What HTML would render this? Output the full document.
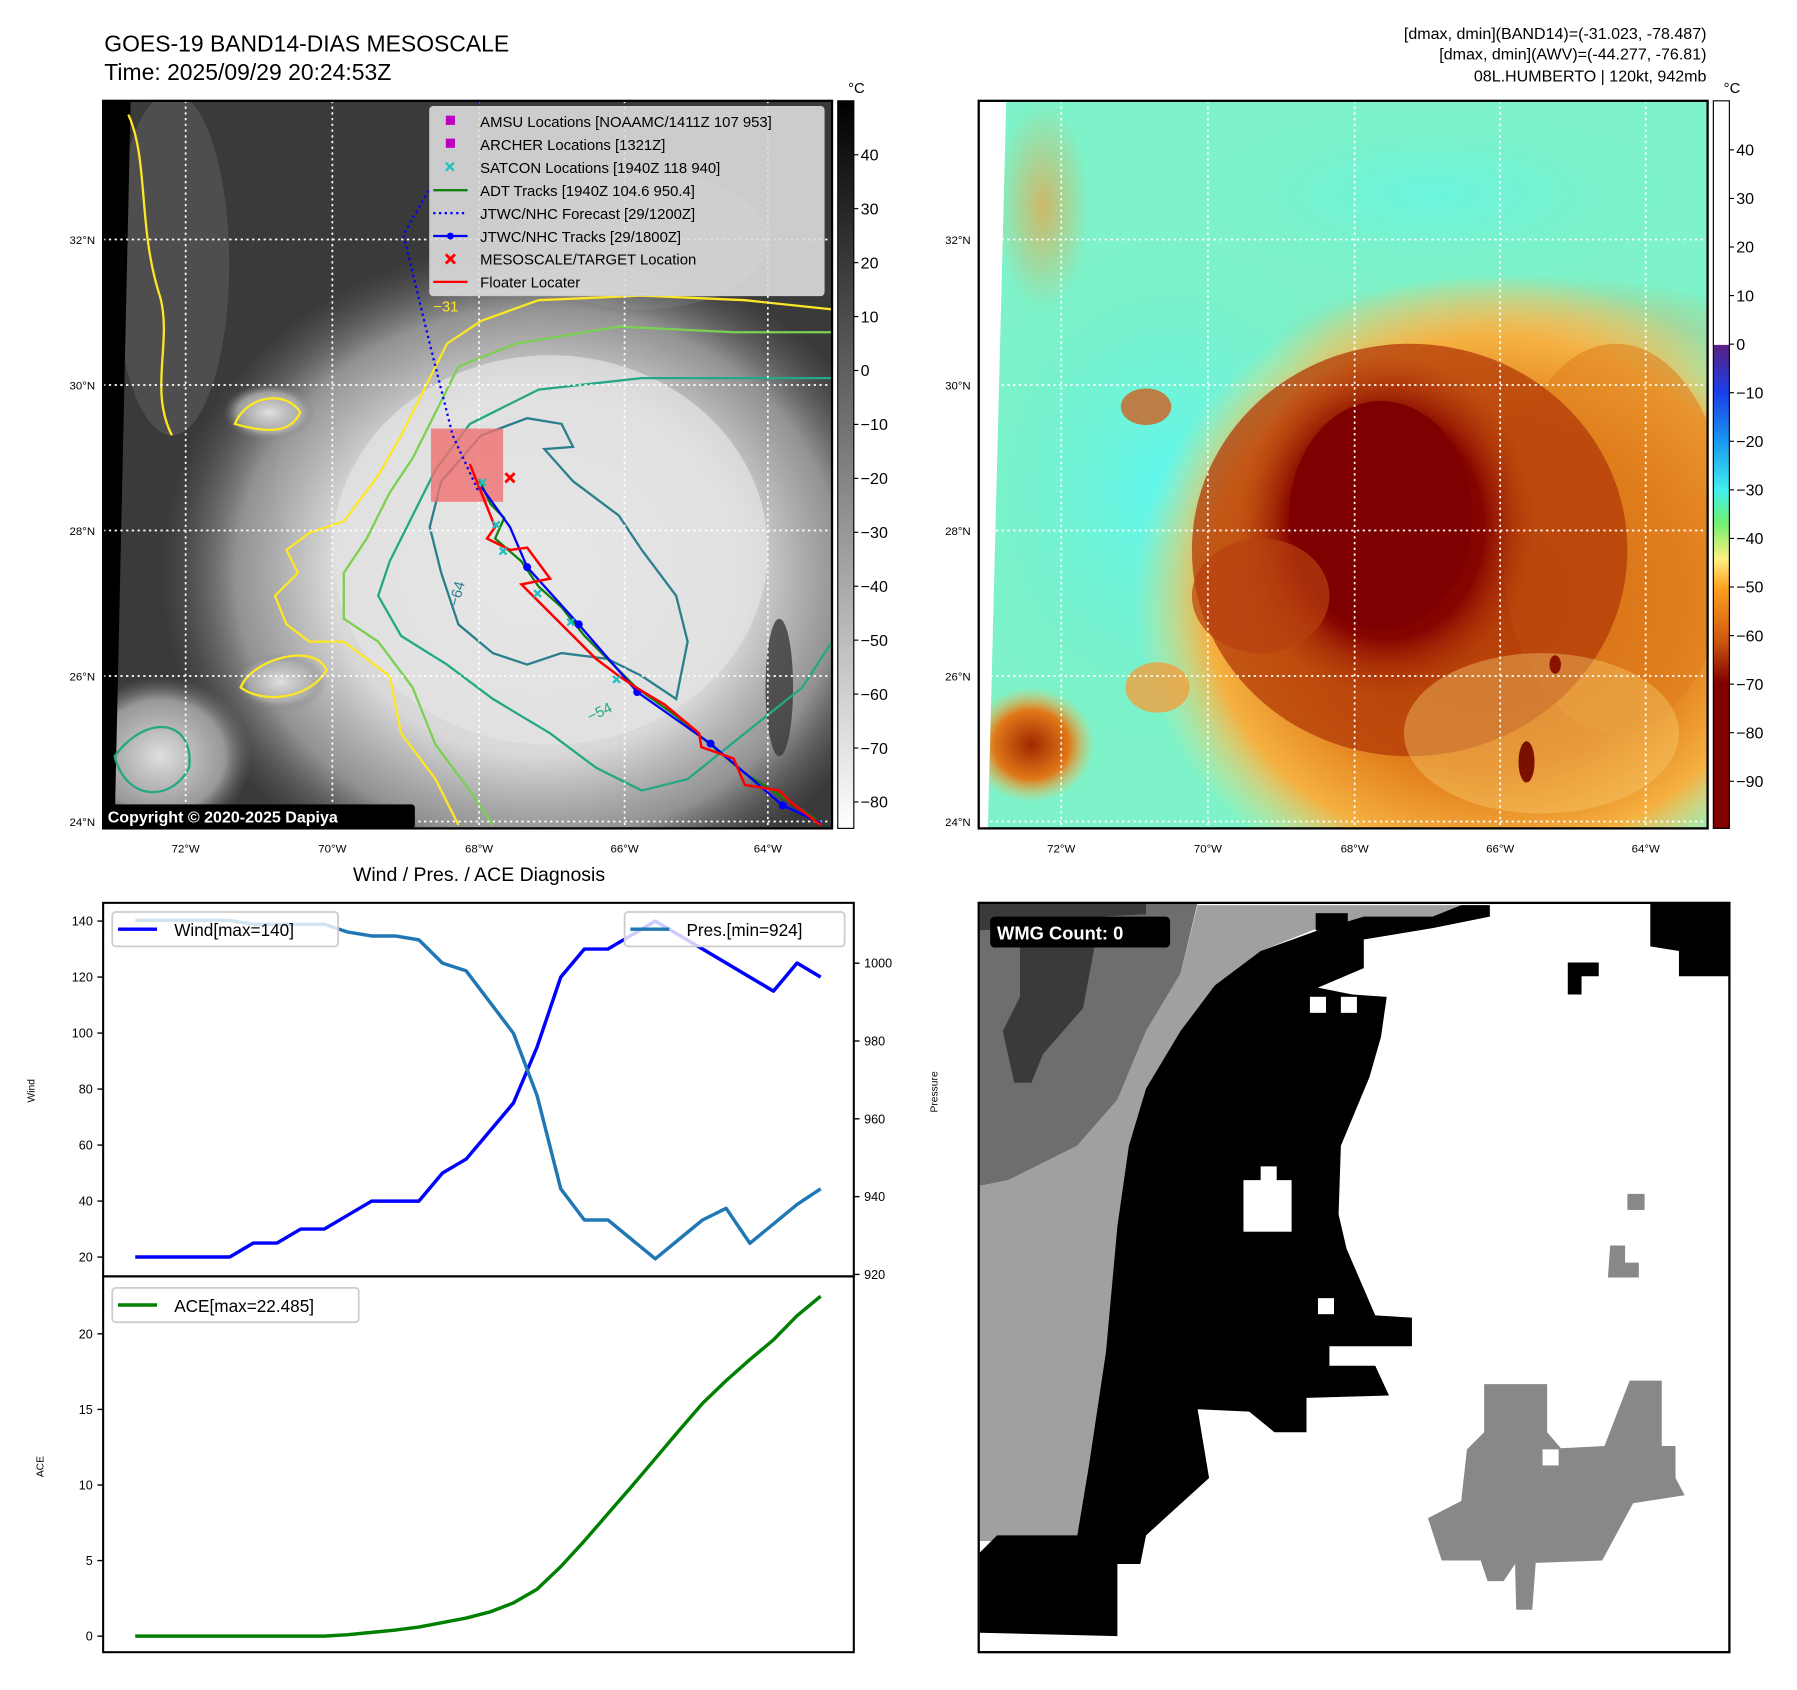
<!DOCTYPE html>
<html><head><meta charset="utf-8"><style>
html,body{margin:0;padding:0;background:#fff;}
svg{display:block;font-family:"Liberation Sans","DejaVu Sans",sans-serif;}
</style></head><body>
<svg id="root" width="1797" height="1690" viewBox="0 0 1568 1475" preserveAspectRatio="none" xmlns="http://www.w3.org/2000/svg">
<defs>
<linearGradient id="cbGray" x1="0" y1="0" x2="0" y2="1"><stop offset="0" stop-color="#000"/><stop offset="1" stop-color="#fff"/></linearGradient>
<linearGradient id="cbJet" x1="0" y1="0" x2="0" y2="1">
<stop offset="0" stop-color="#fff"/><stop offset="0.335" stop-color="#fff"/>
<stop offset="0.336" stop-color="#5a2080"/><stop offset="0.40" stop-color="#1a3ee8"/>
<stop offset="0.47" stop-color="#1a9af0"/><stop offset="0.535" stop-color="#40f0f0"/>
<stop offset="0.58" stop-color="#70f070"/><stop offset="0.63" stop-color="#fff080"/>
<stop offset="0.67" stop-color="#ffa020"/><stop offset="0.74" stop-color="#d05a10"/>
<stop offset="0.80" stop-color="#800000"/><stop offset="1" stop-color="#800000"/></linearGradient>
<radialGradient id="stormL" cx="0.5" cy="0.5" r="0.5"><stop offset="0" stop-color="#ececec"/><stop offset="0.55" stop-color="#d8d8d8"/><stop offset="0.8" stop-color="#a8a8a8" stop-opacity="0.8"/><stop offset="1" stop-color="#6a6a6a" stop-opacity="0"/></radialGradient>
<radialGradient id="blobL" cx="0.5" cy="0.5" r="0.5"><stop offset="0" stop-color="#e0e0e0"/><stop offset="0.7" stop-color="#b0b0b0" stop-opacity="0.8"/><stop offset="1" stop-color="#777" stop-opacity="0"/></radialGradient>
<radialGradient id="stormR" cx="0.5" cy="0.5" r="0.5"><stop offset="0" stop-color="#c04a08"/><stop offset="0.55" stop-color="#e07a18"/><stop offset="0.8" stop-color="#f5b040"/><stop offset="1" stop-color="#f8e080" stop-opacity="0"/></radialGradient>
<radialGradient id="coreR" cx="0.5" cy="0.5" r="0.5"><stop offset="0" stop-color="#7a0000"/><stop offset="0.65" stop-color="#860400"/><stop offset="1" stop-color="#b03808" stop-opacity="0"/></radialGradient>
<radialGradient id="cyanR" cx="0.5" cy="0.5" r="0.5"><stop offset="0" stop-color="#5ef8f0"/><stop offset="1" stop-color="#70f0d0" stop-opacity="0"/></radialGradient>
<radialGradient id="orBlob" cx="0.5" cy="0.5" r="0.5"><stop offset="0" stop-color="#a02800"/><stop offset="0.6" stop-color="#e07818"/><stop offset="1" stop-color="#f8c050" stop-opacity="0"/></radialGradient>
<radialGradient id="softOr" cx="0.5" cy="0.5" r="0.5"><stop offset="0" stop-color="#f0a040"/><stop offset="1" stop-color="#f0a040" stop-opacity="0"/></radialGradient>
<clipPath id="clipL"><rect x="90" y="88" width="636" height="635"/></clipPath>
<clipPath id="clipR"><rect x="854" y="88" width="636" height="635"/></clipPath>
</defs>

<text x="91" y="45" font-size="20">GOES-19 BAND14-DIAS MESOSCALE</text>
<text x="91" y="70" font-size="20">Time: 2025/09/29 20:24:53Z</text>
<text x="1489" y="34" font-size="14" text-anchor="end">[dmax, dmin](BAND14)=(-31.023, -78.487)</text>
<text x="1489" y="52" font-size="14" text-anchor="end">[dmax, dmin](AWV)=(-44.277, -76.81)</text>
<text x="1489" y="71" font-size="14" text-anchor="end">08L.HUMBERTO | 120kt, 942mb</text>

<g clip-path="url(#clipL)">
<rect x="90" y="88" width="636" height="635" fill="#3a3a3a"/>
<ellipse cx="150" cy="230" rx="50" ry="150" fill="#4e4e4e"/>
<ellipse cx="330" cy="420" rx="90" ry="90" fill="#474747"/>
<ellipse cx="560" cy="210" rx="110" ry="60" fill="#505050"/>
<ellipse cx="470" cy="500" rx="330" ry="290" fill="url(#stormL)"/>
<ellipse cx="480" cy="480" rx="190" ry="170" fill="#e4e4e4" opacity="0.7"/>
<ellipse cx="140" cy="660" rx="80" ry="70" fill="url(#blobL)"/>
<ellipse cx="235" cy="360" rx="40" ry="25" fill="url(#blobL)"/>
<ellipse cx="245" cy="595" rx="40" ry="25" fill="url(#blobL)"/>
<ellipse cx="680" cy="600" rx="12" ry="60" fill="#3a3a3a" opacity="0.8"/>
<path d="M90,88 L114,88 L100,723 L90,723 Z" fill="#000"/>
<g fill="none" stroke-width="2">
<path stroke="#fde725" d="M726,270 L650,262 L560,258 L470,262 L420,280 L390,300 L370,340 L350,380 L330,415 L300,455 L270,465 L250,480 L260,500 L240,520 L250,545 L270,560 L300,560 L340,590 L350,640 L380,680 L400,720"/>
<path stroke="#7ad151" d="M726,290 L640,290 L540,285 L450,300 L400,320 L380,360 L360,400 L340,430 L320,470 L300,500 L300,540 L330,560 L360,600 L380,650 L410,690 L430,720"/>
<path stroke="#22a884" d="M726,330 L650,330 L560,330 L470,340 L410,370 L380,410 L360,450 L340,490 L330,520 L350,555 L390,580 L430,610 L480,640 L520,670 L560,690 L600,680 L650,640 L700,600 L726,560"/>
<path stroke="#2a7f8e" d="M385,420 L420,380 L460,365 L490,370 L500,390 L475,392 L500,420 L540,450 L560,480 L590,520 L600,560 L590,610 L560,590 L530,575 L490,570 L460,580 L430,570 L400,545 L385,500 L375,460 Z"/>
<path stroke="#fde725" d="M205,370 C215,345 250,340 262,360 C255,375 240,380 205,370 Z"/>
<path stroke="#fde725" d="M210,600 C220,575 275,560 285,585 C270,610 230,615 210,600 Z"/>
<path stroke="#22a884" d="M100,660 C130,620 170,630 165,670 C150,700 110,700 100,660 Z"/>
<path stroke="#fde725" d="M112,100 C130,140 120,200 140,260 C150,300 130,340 150,380"/>
</g>
<g stroke="#fff" stroke-width="1.5" stroke-dasharray="2,3">
<line x1="162" y1="88" x2="162" y2="723"/><line x1="290" y1="88" x2="290" y2="723"/><line x1="418" y1="88" x2="418" y2="723"/><line x1="545" y1="88" x2="545" y2="723"/><line x1="670" y1="88" x2="670" y2="723"/>
<line x1="90" y1="209" x2="726" y2="209"/><line x1="90" y1="336" x2="726" y2="336"/><line x1="90" y1="463" x2="726" y2="463"/><line x1="90" y1="590" x2="726" y2="590"/><line x1="90" y1="717" x2="726" y2="717"/>
</g>
<rect x="376" y="374" width="63" height="64" fill="#f07070" opacity="0.8"/>
<polyline points="418,88 352,205 375,300 395,380 418,430" fill="none" stroke="#0000ff" stroke-width="2" stroke-dasharray="2,3"/>
<polyline points="418,418 428,440 440,452 432,470 455,490 470,512 490,530 510,555 535,580 555,600 590,625 620,650 650,675 690,700 716,718" fill="none" stroke="#108010" stroke-width="2"/>
<polyline points="420,425 445,460 460,495 505,545 556,604 620,649 683,703 716,718" fill="none" stroke="#0000ff" stroke-width="2"/>
<g fill="#0000ff"><circle cx="460" cy="495" r="3.5"/><circle cx="505" cy="545" r="3.5"/><circle cx="556" cy="604" r="3.5"/><circle cx="620" cy="649" r="3.5"/><circle cx="683" cy="703" r="3.5"/></g>
<polyline points="410,405 432,460 425,470 445,480 460,478 480,505 455,510 520,575 540,590 555,600 580,615 610,640 612,652 640,662 650,685 680,690 690,700 716,720" fill="none" stroke="#f00" stroke-width="2.2"/>
<g stroke="#20c0c0" stroke-width="2">
<path d="M418,418 l6,6 m0,-6 l-6,6 M430,455 l6,6 m0,-6 l-6,6 M436,478 l6,6 m0,-6 l-6,6 M466,515 l6,6 m0,-6 l-6,6 M495,540 l6,6 m0,-6 l-6,6 M535,590 l6,6 m0,-6 l-6,6"/>
</g>
<path d="M441,413 l8,8 m0,-8 l-8,8" stroke="#f00" stroke-width="2.5"/>
<text x="378" y="272" font-size="13" fill="#fde725">−31</text>
<text x="515" y="630" font-size="13" fill="#22a884" transform="rotate(-25 515 630)">−54</text>
<text x="400" y="530" font-size="13" fill="#2a7f8e" transform="rotate(-75 400 530)">−64</text>
</g>
<rect x="90" y="88" width="636" height="635" fill="none" stroke="#000" stroke-width="2"/>
<g>
<rect x="375" y="93" width="344" height="165" rx="3" fill="#ddd" fill-opacity="0.9" stroke="#ccc"/>
<rect x="389" y="101" width="8" height="8" fill="#c000c0"/>
<rect x="389" y="121" width="8" height="8" fill="#c000c0"/>
<path d="M389,142 l7,7 m0,-7 l-7,7" stroke="#20c0c0" stroke-width="2"/>
<line x1="378" y1="166" x2="408" y2="166" stroke="#108010" stroke-width="2"/>
<line x1="378" y1="186" x2="408" y2="186" stroke="#0000ff" stroke-width="2" stroke-dasharray="2,3"/>
<line x1="378" y1="206" x2="408" y2="206" stroke="#0000ff" stroke-width="2"/><circle cx="393" cy="206" r="3" fill="#0000ff"/>
<path d="M389,222 l8,8 m0,-8 l-8,8" stroke="#f00" stroke-width="2.5"/>
<line x1="378" y1="246" x2="408" y2="246" stroke="#f00" stroke-width="2"/>
<g font-size="13">
<text x="419" y="111">AMSU Locations [NOAAMC/1411Z 107 953]</text>
<text x="419" y="131">ARCHER Locations [1321Z]</text>
<text x="419" y="151">SATCON Locations [1940Z 118 940]</text>
<text x="419" y="171">ADT Tracks [1940Z 104.6 950.4]</text>
<text x="419" y="191">JTWC/NHC Forecast [29/1200Z]</text>
<text x="419" y="211">JTWC/NHC Tracks [29/1800Z]</text>
<text x="419" y="231">MESOSCALE/TARGET Location</text>
<text x="419" y="251">Floater Locater</text>
</g></g>
<g><rect x="90" y="702" width="272" height="21" rx="3" fill="#000"/><text x="94" y="718" font-size="14" font-weight="bold" fill="#fff">Copyright © 2020-2025 Dapiya</text></g>
<g font-size="10">
<text x="162" y="744" text-anchor="middle">72°W</text><text x="290" y="744" text-anchor="middle">70°W</text><text x="418" y="744" text-anchor="middle">68°W</text><text x="545" y="744" text-anchor="middle">66°W</text><text x="670" y="744" text-anchor="middle">64°W</text>
<text x="83" y="213" text-anchor="end">32°N</text><text x="83" y="340" text-anchor="end">30°N</text><text x="83" y="467" text-anchor="end">28°N</text><text x="83" y="594" text-anchor="end">26°N</text><text x="83" y="721" text-anchor="end">24°N</text>
</g>
<rect x="731" y="88" width="14" height="635" fill="url(#cbGray)" stroke="#000" stroke-width="1"/>
<text x="740" y="81" font-size="13">°C</text>
<g id="cbTicksL" font-size="14"></g>

<g clip-path="url(#clipR)">
<rect x="854" y="88" width="636" height="635" fill="#7ef2c8"/>
<ellipse cx="1020" cy="430" rx="190" ry="230" fill="url(#cyanR)"/>
<ellipse cx="1250" cy="170" rx="220" ry="80" fill="url(#cyanR)" opacity="0.6"/>
<ellipse cx="910" cy="180" rx="40" ry="90" fill="url(#softOr)" opacity="0.7"/>
<ellipse cx="1330" cy="300" rx="220" ry="60" fill="url(#softOr)" opacity="0.9"/>
<ellipse cx="1300" cy="520" rx="310" ry="280" fill="url(#stormR)"/>
<ellipse cx="1410" cy="470" rx="100" ry="170" fill="#e08020" opacity="0.6"/>
<ellipse cx="1230" cy="480" rx="190" ry="180" fill="#b23a08" opacity="0.75"/>
<ellipse cx="1210" cy="460" rx="130" ry="150" fill="url(#coreR)"/>
<ellipse cx="1205" cy="450" rx="80" ry="100" fill="#7e0000"/>
<ellipse cx="1100" cy="520" rx="60" ry="50" fill="#b84010" opacity="0.7"/>
<ellipse cx="1345" cy="640" rx="120" ry="70" fill="#f8d070" opacity="0.4"/>
<ellipse cx="900" cy="650" rx="55" ry="50" fill="url(#orBlob)"/>
<ellipse cx="1000" cy="355" rx="22" ry="16" fill="#d06020" opacity="0.8"/>
<ellipse cx="1010" cy="600" rx="28" ry="22" fill="#f0a040" opacity="0.8"/>
<ellipse cx="1332" cy="665" rx="7" ry="18" fill="#7a1000"/>
<ellipse cx="1357" cy="580" rx="5" ry="8" fill="#8a1000"/>
<path d="M854,88 L878,88 L862,723 L854,723 Z" fill="#fff"/>
<g stroke="#fff" stroke-width="1.5" stroke-dasharray="2,3">
<line x1="926" y1="88" x2="926" y2="723"/><line x1="1054" y1="88" x2="1054" y2="723"/><line x1="1182" y1="88" x2="1182" y2="723"/><line x1="1309" y1="88" x2="1309" y2="723"/><line x1="1436" y1="88" x2="1436" y2="723"/>
<line x1="854" y1="209" x2="1490" y2="209"/><line x1="854" y1="336" x2="1490" y2="336"/><line x1="854" y1="463" x2="1490" y2="463"/><line x1="854" y1="590" x2="1490" y2="590"/><line x1="854" y1="717" x2="1490" y2="717"/>
</g>
</g>
<rect x="854" y="88" width="636" height="635" fill="none" stroke="#000" stroke-width="2"/>
<g font-size="10">
<text x="926" y="744" text-anchor="middle">72°W</text><text x="1054" y="744" text-anchor="middle">70°W</text><text x="1182" y="744" text-anchor="middle">68°W</text><text x="1309" y="744" text-anchor="middle">66°W</text><text x="1436" y="744" text-anchor="middle">64°W</text>
<text x="847" y="213" text-anchor="end">32°N</text><text x="847" y="340" text-anchor="end">30°N</text><text x="847" y="467" text-anchor="end">28°N</text><text x="847" y="594" text-anchor="end">26°N</text><text x="847" y="721" text-anchor="end">24°N</text>
</g>
<rect x="1495" y="88" width="14" height="635" fill="url(#cbJet)" stroke="#000" stroke-width="1"/>
<text x="1504" y="81" font-size="13">°C</text>
<g id="cbTicksR" font-size="14"></g>

<text x="418" y="769" font-size="17" text-anchor="middle">Wind / Pres. / ACE Diagnosis</text>
<rect x="90" y="788" width="655" height="654" fill="#fff"/>
<g id="charts"></g>
<rect x="90" y="788" width="655" height="326" fill="none" stroke="#000" stroke-width="1.8"/>
<rect x="90" y="1114" width="655" height="328" fill="none" stroke="#000" stroke-width="1.8"/>
<text x="30" y="952" font-size="9" text-anchor="middle" transform="rotate(-90 30 952)">Wind</text>
<text x="38" y="1280" font-size="9" text-anchor="middle" transform="rotate(-90 38 1280)">ACE</text>
<text x="818" y="953" font-size="9" text-anchor="middle" transform="rotate(-90 818 953)">Pressure</text>
<g><rect x="98" y="796" width="197" height="30" rx="3" fill="#fff" fill-opacity="0.8" stroke="#ccc" stroke-width="1.5"/><line x1="103" y1="811" x2="137" y2="811" stroke="#0000ff" stroke-width="3"/><text x="152" y="817" font-size="15">Wind[max=140]</text></g>
<g><rect x="545" y="796" width="192" height="30" rx="3" fill="#fff" fill-opacity="0.8" stroke="#ccc" stroke-width="1.5"/><line x1="550" y1="811" x2="584" y2="811" stroke="#1f77b4" stroke-width="3"/><text x="599" y="817" font-size="15">Pres.[min=924]</text></g>
<g><rect x="98" y="1124" width="215" height="30" rx="3" fill="#fff" fill-opacity="0.8" stroke="#ccc" stroke-width="1.5"/><line x1="103" y1="1139" x2="137" y2="1139" stroke="#008000" stroke-width="3"/><text x="152" y="1145" font-size="15">ACE[max=22.485]</text></g>

<g>
<rect x="854" y="788" width="655" height="654" fill="#fff"/>
<polygon points="855,788 1045,788 1030,850 1000,900 975,960 940,1000 880,1030 855,1035" fill="#6e6e6e"/>
<polygon points="855,788 1000,788 1000,798 960,800 945,880 910,920 900,945 885,945 875,900 890,870 890,810 855,812" fill="#3a3a3a"/>
<polygon points="855,1035 880,1030 940,1000 975,960 1000,900 1030,850 1045,790 1275,790 1250,800 1150,810 1100,830 1060,860 1030,900 1000,950 985,1000 975,1070 965,1180 950,1280 940,1340 870,1345 855,1345" fill="#a0a0a0"/>
<polygon points="1060,860 1100,830 1150,812 1190,800 1250,800 1275,790 1300,790 1300,800 1250,810 1190,820 1190,845 1150,862 1180,868 1210,870 1205,905 1195,940 1170,1000 1168,1060 1175,1090 1200,1148 1232,1150 1232,1175 1160,1175 1160,1192 1200,1192 1212,1218 1140,1220 1140,1250 1112,1250 1090,1232 1045,1230 1055,1290 1000,1340 995,1365 975,1365 975,1428 855,1425 855,1355 870,1340 940,1340 950,1280 965,1180 975,1070 985,1000 1000,950 1030,900" fill="#000"/>
<polygon points="1440,788 1509,788 1509,852 1465,852 1465,830 1440,826" fill="#000"/>
<polygon points="1368,840 1395,840 1395,852 1380,852 1380,868 1368,868" fill="#000"/>
<rect x="1148" y="797" width="28" height="15" fill="#000"/>
<rect x="1085" y="1030" width="42" height="45" fill="#fff"/><rect x="1100" y="1018" width="14" height="14" fill="#fff"/>
<rect x="1143" y="870" width="14" height="14" fill="#fff"/><rect x="1170" y="870" width="14" height="14" fill="#fff"/>
<rect x="992" y="990" width="14" height="14" fill="#000"/>
<rect x="1150" y="1133" width="14" height="14" fill="#fff"/>
<polygon points="1295,1208 1350,1208 1350,1250 1362,1264 1400,1262 1422,1205 1450,1205 1450,1262 1462,1262 1462,1290 1470,1305 1425,1312 1398,1362 1340,1364 1337,1405 1323,1405 1322,1365 1312,1380 1298,1380 1292,1362 1258,1362 1246,1325 1275,1310 1280,1265 1295,1250" fill="#888"/>
<rect x="1346" y="1265" width="14" height="14" fill="#fff"/>
<rect x="1420" y="1042" width="15" height="14" fill="#888"/>
<polygon points="1405,1087 1418,1087 1418,1102 1430,1102 1430,1115 1403,1115" fill="#888"/>
</g>
<rect x="854" y="788" width="655" height="654" fill="none" stroke="#000" stroke-width="2"/>
<g><rect x="864" y="800" width="157" height="27" rx="4" fill="#000"/><text x="870" y="820" font-size="16" font-weight="bold" fill="#fff">WMG Count: 0</text></g>
</svg>
<script>
const windVals=[20,20,20,20,20,25,25,30,30,35,40,40,40,50,55,65,75,95,120,130,130,135,140,135,130,125,120,115,125,120];
const presVals=[1011,1011,1011,1011,1011,1010,1010,1010,1010,1008,1007,1007,1006,1000,998,990,982,966,942,934,934,929,924,929,934,937,928,933,938,942];
const aceVals=[0,0,0,0,0,0,0,0,0,0.1,0.25,0.4,0.6,0.9,1.2,1.6,2.2,3.1,4.6,6.3,8.1,9.9,11.75,13.6,15.4,16.9,18.3,19.6,21.2,22.485];
const windTicks=[20,40,60,80,100,120,140];
const presTicks=[920,940,960,980,1000];
const aceTicks=[0,5,10,15,20];
const grayCbTicks=[40,30,20,10,0,-10,-20,-30,-40,-50,-60,-70,-80];
const jetCbTicks=[40,30,20,10,0,-10,-20,-30,-40,-50,-60,-70,-80,-90];

const NS="http://www.w3.org/2000/svg";
function X(i){return 90+(i+1.358)*(655/31.758);}
function WY(v){return 788+(146.5-v)*(326/133.4);}
function PY(v){return 788+(1015.5-v)*(326/96);}
function AY(v){return 1114+(23.8-v)*(328/24.86);}
function cbL(v){return 88+(50-v)*(635/134.9);}
function cbR(v){return 88+(50.1-v)*(635/149.8);}
function mk(tag,attrs,parent){const e=document.createElementNS(NS,tag);for(const k in attrs)e.setAttribute(k,attrs[k]);parent.appendChild(e);return e;}
const charts=document.getElementById('charts');
function line(vals,fy,color,name){
  const pts=vals.map((v,i)=>X(i).toFixed(1)+','+fy(v).toFixed(1)).join(' ');
  const p=mk('polyline',{points:pts,fill:'none',stroke:color,'stroke-width':3,'stroke-linejoin':'round'},charts);
  
  
}
line(windVals,WY,'#0000ff','wind-line');
line(presVals,PY,'#1f77b4','pressure-line');
line(aceVals,AY,'#008000','ace-line');
function ticks(list,fy,x,side,name,parent){
  list.forEach(v=>{
    const y=fy(v);
    const l=mk('line',{x1:side<0?x-5:x,x2:side<0?x:x+5,y1:y,y2:y,stroke:'#000','stroke-width':1.2},parent);
    
    
    const t=mk('text',{x:side<0?x-9:x+9,y:y+4,'font-size':11,'text-anchor':side<0?'end':'start'},parent);
    t.textContent=String(v);
    
    
  });
}
ticks(windTicks,WY,90,-1,'wind-axis',charts);
ticks(presTicks,PY,745,1,'pressure-axis',charts);
ticks(aceTicks,AY,90,-1,'ace-axis',charts);
function cbTicks(list,fy,x,id,name){
  const g=document.getElementById(id);
  list.forEach(v=>{
    const y=fy(v);
    const l=mk('line',{x1:x,x2:x+4,y1:y,y2:y,stroke:'#000','stroke-width':1},g);
    
    
    const t=mk('text',{x:x+6,y:y+5},g);
    t.textContent=(v<0?'\u2212'+(-v):String(v));
    
    
  });
}
cbTicks(grayCbTicks,cbL,745,'cbTicksL','gray-colorbar');
cbTicks(jetCbTicks,cbR,1509,'cbTicksR','awv-colorbar');
</script>
</body></html>
